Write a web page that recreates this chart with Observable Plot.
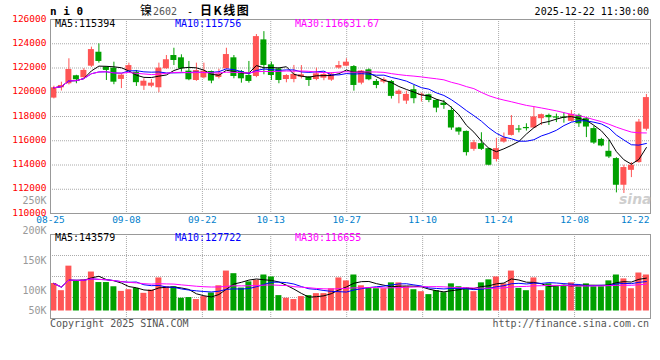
<!DOCTYPE html>
<html><head><meta charset="utf-8">
<script src="https://cdn.jsdelivr.net/npm/d3@7"></script>
<script src="https://cdn.jsdelivr.net/npm/@observablehq/plot@0.6"></script>
<style>
body{margin:0;background:#fff;}
#c{position:relative;width:660px;height:360px;overflow:hidden;background:#fff;font-family:"DejaVu Sans Mono",monospace;}
#c svg{position:absolute;left:0;top:0;}
.t{position:absolute;white-space:pre;line-height:1;font-size:10px;}
</style></head><body><div id="c"></div>
<script>
// ---- data (nickel 2602 daily K, 08-25 .. 12-22) ----
const opens = [119520,120370,120700,121360,121200,122150,123300,122070,121990,121060,
  121740,121650,120500,120500,120370,121935,123030,122840,121740,120970,
  121190,121710,121220,121930,122840,121710,121380,121300,124320,122260,
  121930,121050,121050,121245,121250,121050,121160,121000,121990,122150,
  122120,120750,121850,120890,120835,120890,119820,119270,120210,119740,
  119790,119330,119100,118500,117050,116770,115290,115760,115350,114450,
  115890,116440,116950,117060,117050,117820,118090,117960,117950,117600,
  118090,117820,117000,116110,115130,114530,112330,113560,114200,116950];
const closes = [120370,120560,121880,121030,121800,123520,122540,121800,120830,121410,
  122200,120790,120910,120750,121990,122680,122620,121940,121030,121790,
  121740,120920,121500,123110,121300,121110,120890,124590,122210,121380,
  120970,121380,121470,121440,120970,121520,121470,121500,122200,122480,
  120560,121750,121030,120560,121030,119660,120090,119820,119470,119820,
  119320,118690,118910,117050,116720,115020,115840,115290,113980,115350,
  116220,117260,116900,117030,117960,118150,117900,117880,117850,118180,
  117400,117130,115810,115570,114660,112330,113790,113980,117540,119560];
const highs = [120500,120830,122760,121400,121950,123720,123990,122100,122480,121500,
  122400,121800,121110,121050,122400,123030,123630,123090,122540,122400,
  122400,121750,121900,123630,123030,121790,122540,124760,125000,122480,
  122000,121450,122210,122200,121300,121990,121600,121600,122540,122760,
  122200,121790,121930,121050,121190,120970,120200,120090,120560,119930,
  119850,119400,119330,118780,117100,116800,116030,116660,115400,116200,
  116640,118080,117260,117400,118780,118200,118200,118200,118300,118500,
  118200,117900,117190,116200,116030,114600,113980,114200,117760,119820];
const lows = [119450,120100,120600,120700,121100,122050,122400,120970,120620,120300,
  121700,120480,120150,120370,119960,121900,122200,121660,120950,120900,
  121100,120700,121100,121900,121110,120750,120750,121200,121440,120970,
  120700,120780,120780,121100,120480,120950,120950,120900,121900,122100,
  120090,120610,120950,120290,120700,119440,119050,119000,119050,119190,
  119140,118310,118590,116860,116450,114740,115130,115200,113930,114250,
  115800,116390,116650,116800,117000,117260,117260,117500,117450,117550,
  117100,116260,115700,115500,114530,111700,111650,112960,114150,116800];
const volumes = [119600,88300,195100,131000,135300,169500,123800,123800,105400,85400,
  92500,98200,76900,91100,143800,105400,105400,55500,58400,49800,
  62600,78300,109700,173700,162300,99700,126700,133900,156600,148100,
  66900,55500,49800,62600,66900,75500,75500,96800,143800,131000,
  156600,109700,101100,96800,96800,122400,122400,105400,92500,84000,
  71200,88300,79800,118100,105400,101100,84000,122400,135300,148100,
  118100,173700,98200,88300,143800,88300,118100,105400,109700,122400,
  105400,118100,105400,105400,131000,156600,139600,96800,165200,156600];
const tickIdx = [0,10,20,29,39,49,59,69,79];
const tickLabels = ["08-25","09-08","09-22","10-13","10-27","11-10","11-24","12-08","12-22"];
const priceTicks = [110000,112000,114000,116000,118000,120000,122000,124000,126000];
const volTickValues = [50000,100000,150000,200000,250000];
const volTickLabels = ["50K","100K","150K","200K","250K"];
const maLabels = ["MA5:115394","MA10:115756","MA30:116631.67"];
const volMaLabels = ["MA5:143579","MA10:127722","MA30:116655"];
const titleCode = "n i 0";
const titleName = "镍", titleNum = "2602", titleSep = "-", titleKind = "日K线图";
const stamp = "2025-12-22 11:30:00";
const footLeft = "Copyright 2025 SINA.COM", footRight = "http://finance.sina.com.cn";

// ---- build ----
const RED = "#ff5555", GREEN = "#00a000", GRID = "#aaaaaa", FRAME = "#999999";
const MA_COLORS = ["#000000", "#0000ff", "#ff00ff"];
const MA_K = [5, 10, 30];
const rows = opens.map((o, i) => ({i, open: o, close: closes[i], high: highs[i], low: lows[i], vol: volumes[i],
  col: closes[i] >= o ? RED : GREEN}));
const N = rows.length, X0 = -0.453;
const xDomain = [X0, X0 + N];
const gridX = k => X0 + k * N / (N - 1);
const dateTicks = tickIdx.map((k, j) => ({k, label: tickLabels[j]}));
const W = 660, H = 360;
const FONT = "DejaVu Sans Mono, monospace";
const c = document.getElementById("c");
const baseStyle = {background: "transparent", overflow: "visible", fontFamily: FONT, fontSize: "9.5px"};
const bodyY1 = d => Math.abs(d.close - d.open) < 100 ? (d.open + d.close) / 2 - 50 : d.open;
const bodyY2 = d => Math.abs(d.close - d.open) < 100 ? (d.open + d.close) / 2 + 50 : d.close;

const main = Plot.plot({
  width: W, height: H, marginLeft: 50, marginRight: 10, marginTop: 19, marginBottom: 147,
  x: {domain: xDomain, axis: null},
  y: {domain: [priceTicks[0], priceTicks[priceTicks.length - 1]], axis: null},
  color: {type: "identity"},
  style: baseStyle,
  marks: [
    Plot.ruleY(priceTicks.slice(1, -1), {stroke: GRID, strokeDasharray: "1,1"}),
    Plot.ruleX(dateTicks, {x: d => gridX(d.k), stroke: GRID, strokeDasharray: "1,1"}),
    Plot.ruleX(rows, {x: "i", y1: "low", y2: "high", stroke: "col"}),
    Plot.rect(rows, {x1: d => d.i - 0.4, x2: d => d.i + 0.4, y1: bodyY1, y2: bodyY2, fill: "col"}),
    ...MA_K.map((k, j) => Plot.lineY(rows, Plot.windowY({k, anchor: "end", strict: false},
      {x: "i", y: "close", stroke: MA_COLORS[j], strokeWidth: 1}))),
    Plot.frame({stroke: FRAME}),
    Plot.axisY(priceTicks, {tickSize: 0, tickPadding: 4, color: "#ff0000", label: null, fontSize: 9.5,
      dy: -1, tickFormat: d => String(d)}),
    Plot.text(dateTicks.slice(0, -1), {x: d => gridX(d.k), text: "label", frameAnchor: "bottom", dy: 9,
      fill: "#0080cc", fontSize: 9.5}),
    Plot.text(dateTicks.slice(-1), {x: d => gridX(d.k), text: "label", frameAnchor: "bottom", dy: 9,
      textAnchor: "end", dx: -1, fill: "#0080cc", fontSize: 9.5})
  ]
});
c.appendChild(main);

const VPX = 4350; // volume units per pixel
const vol = Plot.plot({
  width: W, height: H, marginLeft: 50, marginRight: 10, marginTop: 234, marginBottom: 42,
  x: {domain: xDomain, axis: null},
  y: {domain: [-7.5 * VPX, 76.5 * VPX], axis: null},
  color: {type: "identity"},
  style: baseStyle,
  marks: [
    Plot.ruleY([0.25, 0.5, 0.75], {y: f => -7.5 * VPX + f * 84 * VPX, stroke: GRID, strokeDasharray: "1,1"}),
    Plot.ruleX(dateTicks, {x: d => gridX(d.k), stroke: GRID, strokeDasharray: "1,1"}),
    Plot.rect(rows, {x1: d => d.i - 0.4, x2: d => d.i + 0.4, y1: 0, y2: "vol", fill: "col"}),
    ...MA_K.map((k, j) => Plot.lineY(rows, Plot.windowY({k, anchor: "end", strict: false},
      {x: "i", y: "vol", stroke: MA_COLORS[j], strokeWidth: 1}))),
    Plot.frame({stroke: FRAME})
  ]
});
c.appendChild(vol);

// the volume labels follow their own (clamped) 30px-per-50K spacing, as in the source chart
const volAxis = Plot.plot({
  width: W, height: H, marginLeft: 50, marginRight: 10, marginTop: 200, marginBottom: 50,
  y: {domain: [66700, 250000], clamp: true, axis: null},
  style: baseStyle,
  marks: [
    Plot.axisY(volTickValues, {tickSize: 0, tickPadding: 4, color: "#999999", label: null, fontSize: 10,
      tickFormat: d => volTickLabels[volTickValues.indexOf(d)]})
  ]
});
c.appendChild(volAxis);

// ---- surrounding texts ----
function addText(str, pos, css) {
  const el = document.createElement("div");
  el.className = "t";
  el.textContent = str;
  for (const k in pos) el.style[k] = pos[k] + "px";
  Object.assign(el.style, css || {});
  c.appendChild(el);
  return el;
}
addText(titleCode, {left: 50, top: 6}, {fontWeight: "bold", fontSize: "11px", color: "#000"});
addText(titleName, {left: 140, top: 4}, {fontFamily: "Noto Sans CJK SC", fontSize: "12px", color: "#000"});
addText(titleNum, {left: 153, top: 7}, {color: "#555"});
addText(titleSep, {left: 187, top: 7}, {color: "#000"});
addText(titleKind, {left: 200, top: 4}, {fontFamily: "Noto Sans CJK SC", fontSize: "12px", color: "#000", letterSpacing: "1.5px", fontWeight: "bold"});
addText(stamp, {right: 11, top: 7}, {color: "#000"});
[55, 175, 295].forEach((x, j) => {
  addText(maLabels[j], {left: x, top: 18.5}, {color: MA_COLORS[j]});
  addText(volMaLabels[j], {left: x, top: 233}, {color: MA_COLORS[j]});
});
addText(footLeft, {left: 50, top: 319}, {color: "#555"});
addText(footRight, {right: 11, top: 319}, {color: "#555"});
addText("sina", {left: 619, top: 192}, {fontFamily: "DejaVu Sans", fontStyle: "italic", fontWeight: "bold", fontSize: "14px", color: "rgba(190,190,190,0.75)"});
</script></body></html>
